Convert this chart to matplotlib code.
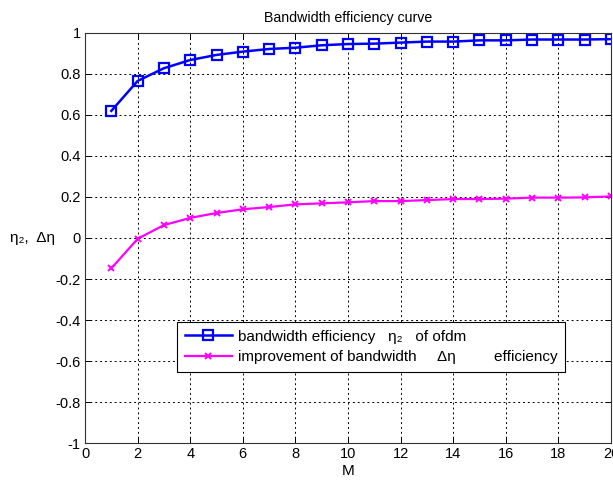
import matplotlib
matplotlib.use("Agg")
import matplotlib.pyplot as plt
import numpy as np

M = list(range(1, 21))
eta2 = [0.62, 0.766, 0.828, 0.868, 0.893, 0.909, 0.922, 0.928, 0.940, 0.946,
        0.948, 0.953, 0.958, 0.958, 0.964, 0.964, 0.968, 0.968, 0.968, 0.970]
delta_eta = [-0.148, -0.004, 0.063, 0.098, 0.122, 0.140, 0.151, 0.164, 0.169, 0.174,
             0.180, 0.180, 0.185, 0.190, 0.190, 0.192, 0.197, 0.197, 0.198, 0.203]
xticks = list(range(0, 21, 2))
yticks = [round(v, 1) for v in np.arange(-1, 1.01, 0.2)]
yticklabels = ['-1', '-0.8', '-0.6', '-0.4', '-0.2', '0', '0.2', '0.4', '0.6', '0.8', '1']

plt.rcParams['font.family'] = ['Liberation Sans', 'DejaVu Sans']
plt.rcParams['font.size'] = 11

fig = plt.figure(figsize=(6.13, 4.87), dpi=100)
ax = fig.add_axes([0.1387, 0.0903, 0.858, 0.842])

ax.plot(M, eta2, color='#0000ff', lw=1.8, marker='s', ms=7.5, mfc='none', mec='#0000ff', mew=1.6,
        label='bandwidth efficiency   η₂   of ofdm')
ax.plot(M, delta_eta, color='#ff00ff', lw=1.6, marker='x', ms=4, mew=1.4,
        label='improvement of bandwidth     Δη         efficiency')

ax.set_xlim(0, 20)
ax.set_ylim(-1, 1)
ax.set_xticks(xticks)
ax.set_yticks(yticks)
ax.set_yticklabels(yticklabels)
ax.grid(True, color='black', linestyle=(0, (2, 3)), lw=0.7)
ax.tick_params(direction='in', top=True, right=True, length=4, width=0.7, pad=3, labelsize=10.5)
for s in ax.spines.values():
    s.set_linewidth(0.8)
    s.set_color('#333333')

ax.set_xlabel('M', labelpad=2)
ax.set_ylabel('η₂,  Δη', rotation=0, ha='center', va='center')
ax.yaxis.set_label_coords(-0.099, 0.5)
ax.set_title('Bandwidth efficiency curve', fontsize=10.2, pad=8)

leg = ax.legend(loc='lower left', bbox_to_anchor=(0.175, 0.173), fancybox=False,
                edgecolor='black', framealpha=1, borderpad=0.5, labelspacing=0.45,
                handlelength=3.1, handletextpad=0.4, borderaxespad=0)
leg.get_frame().set_linewidth(0.8)

fig.savefig('out.png', dpi=100)
